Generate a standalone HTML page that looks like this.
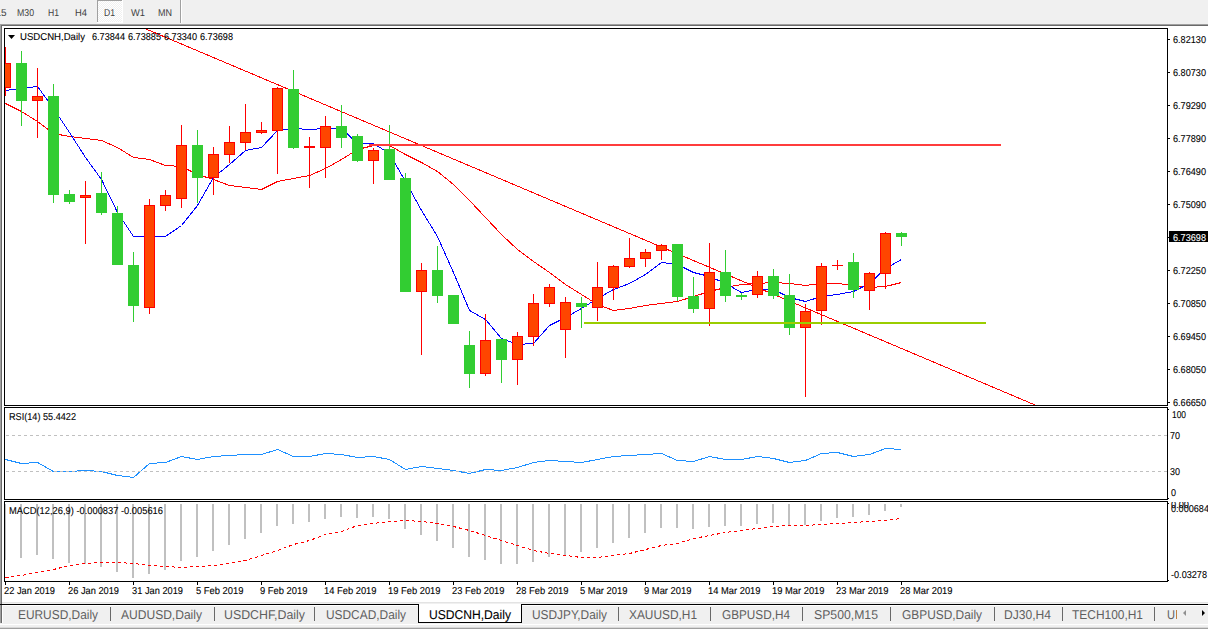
<!DOCTYPE html><html><head><meta charset="utf-8"><title>USDCNH,Daily</title><style>html,body{margin:0;padding:0;background:#f0f0f0;overflow:hidden}svg{display:block}text{font-family:"Liberation Sans",sans-serif;text-rendering:geometricPrecision}</style></head><body>
<svg width="1208" height="629" viewBox="0 0 1208 629" shape-rendering="crispEdges">
<rect x="0" y="0" width="1208" height="629" fill="#f0f0f0"/>
<defs><pattern id="chk" x="0" y="0" width="2" height="2" patternUnits="userSpaceOnUse"><rect width="2" height="2" fill="#f0f0f0"/><rect width="1" height="1" fill="#ffffff"/><rect x="1" y="1" width="1" height="1" fill="#ffffff"/></pattern><clipPath id="cMain"><rect x="5" y="29" width="1162" height="376"/></clipPath><clipPath id="cRsi"><rect x="5" y="408" width="1162" height="91"/></clipPath><clipPath id="cMacd"><rect x="5" y="502" width="1162" height="79"/></clipPath><clipPath id="cAxisM"><rect x="1168" y="502" width="40" height="79"/></clipPath></defs>
<rect x="97" y="0" width="26" height="23" fill="#ffffff"/>
<rect x="98" y="1" width="24" height="21" fill="url(#chk)"/>
<rect x="97" y="0" width="25" height="1" fill="#a0a0a0"/>
<rect x="97" y="0" width="1" height="22" fill="#a0a0a0"/>
<text x="0" y="16" font-size="10" fill="#404040" text-anchor="end" dx="6.5">M15</text>
<text x="17" y="16" font-size="10" fill="#404040" textLength="17" lengthAdjust="spacingAndGlyphs" >M30</text>
<text x="48" y="16" font-size="10" fill="#404040" textLength="11" lengthAdjust="spacingAndGlyphs" >H1</text>
<text x="75" y="16" font-size="10" fill="#404040" textLength="12" lengthAdjust="spacingAndGlyphs" >H4</text>
<text x="104" y="16" font-size="10" fill="#404040" textLength="11" lengthAdjust="spacingAndGlyphs" >D1</text>
<text x="131" y="16" font-size="10" fill="#404040" textLength="14" lengthAdjust="spacingAndGlyphs" >W1</text>
<text x="158" y="16" font-size="10" fill="#404040" textLength="14" lengthAdjust="spacingAndGlyphs" >MN</text>
<rect x="180" y="0" width="1" height="23" fill="#a0a0a0"/>
<rect x="181" y="0" width="1" height="23" fill="#ffffff"/>
<rect x="0" y="24" width="1208" height="1" fill="#a0a0a0"/>
<rect x="0" y="25" width="1208" height="1" fill="#696969"/>
<rect x="2" y="26" width="1206" height="577" fill="#ffffff"/>
<rect x="0" y="24" width="1" height="599" fill="#a0a0a0"/>
<rect x="1" y="25" width="1" height="598" fill="#696969"/>
<rect x="2" y="602" width="1206" height="1" fill="#e3e3e3"/>
<rect x="4" y="28" width="1164" height="1" fill="#000"/>
<rect x="4" y="405" width="1164" height="1" fill="#000"/>
<rect x="4" y="28" width="1" height="378" fill="#000"/>
<rect x="1167" y="28" width="1" height="378" fill="#000"/>
<rect x="4" y="407" width="1164" height="1" fill="#000"/>
<rect x="4" y="499" width="1164" height="1" fill="#000"/>
<rect x="4" y="407" width="1" height="93" fill="#000"/>
<rect x="1167" y="407" width="1" height="93" fill="#000"/>
<rect x="4" y="501" width="1164" height="1" fill="#000"/>
<rect x="4" y="581" width="1164" height="1" fill="#000"/>
<rect x="4" y="501" width="1" height="81" fill="#000"/>
<rect x="1167" y="501" width="1" height="81" fill="#000"/>
<g clip-path="url(#cMain)">
<line x1="144.8" y1="28.5" x2="1036.3" y2="405.5" stroke="#ff0000" stroke-width="1"/>
<polyline points="5.5,103.5 21.5,111.5 37.5,121.5 53.5,133.5 69.5,136.5 85.5,138.5 101.5,140.5 117.5,147.5 133.5,157.5 149.5,159.5 165.5,165.5 181.5,166.5 197.5,174.5 213.5,179.5 229.5,185.5 245.5,187.5 261.5,189.5 277.5,181.5 293.5,178.5 309.5,175.5 325.5,168.5 341.5,159.5 357.5,149.5 373.5,145.5 389.5,145.5 405.5,154.5 421.5,162.5 437.5,171.5 453.5,184.5 469.5,200.5 485.5,217.5 501.5,234.5 517.5,249.5 533.5,261.5 549.5,272.5 565.5,284.5 581.5,294.5 597.5,304.5 613.5,310.5 629.5,308.5 645.5,305.5 661.5,303.5 677.5,301.5 693.5,296.5 709.5,291.5 725.5,287.5 741.5,284.5 757.5,283.5 773.5,282.5 789.5,283.5 805.5,285.5 821.5,283.5 837.5,283.5 853.5,285.5 869.5,287.5 885.5,286.5 901.5,282.5" fill="none" stroke="#ff0000" stroke-width="1" />
<polyline points="5.5,90.5 21.5,88.5 37.5,86.5 53.5,108.5 69.5,132.5 85.5,157.5 101.5,179.5 117.5,212.5 133.5,236.5 149.5,236.5 165.5,236.5 181.5,225.5 197.5,205.5 213.5,177.5 229.5,164.5 245.5,150.5 261.5,147.5 277.5,130.5 293.5,128.5 309.5,129.5 325.5,128.5 341.5,128.5 357.5,143.5 373.5,143.5 389.5,153.5 405.5,181.5 421.5,210.5 437.5,236.5 453.5,272.5 469.5,310.5 485.5,319.5 501.5,338.5 517.5,344.5 533.5,343.5 549.5,325.5 565.5,317.5 581.5,308.5 597.5,298.5 613.5,289.5 629.5,283.5 645.5,274.5 661.5,262.5 677.5,264.5 693.5,272.5 709.5,276.5 725.5,283.5 741.5,292.5 757.5,289.5 773.5,289.5 789.5,297.5 805.5,301.5 821.5,296.5 837.5,294.5 853.5,291.5 869.5,283.5 885.5,268.5 901.5,259.5" fill="none" stroke="#0000ff" stroke-width="1" />
<rect x="5" y="47" width="1" height="49" fill="#ff0000"/>
<rect x="0" y="63" width="11" height="25" fill="#ff0000"/>
<rect x="1" y="64" width="9" height="23" fill="#ff4500"/>
<rect x="21" y="51" width="1" height="75" fill="#32cd32"/>
<rect x="16" y="63" width="11" height="38" fill="#32cd32"/>
<rect x="37" y="68" width="1" height="70" fill="#ff0000"/>
<rect x="32" y="96" width="11" height="5" fill="#ff0000"/>
<rect x="33" y="97" width="9" height="3" fill="#ff4500"/>
<rect x="53" y="84" width="1" height="119" fill="#32cd32"/>
<rect x="48" y="96" width="11" height="99" fill="#32cd32"/>
<rect x="69" y="190" width="1" height="14" fill="#32cd32"/>
<rect x="64" y="194" width="11" height="8" fill="#32cd32"/>
<rect x="85" y="181" width="1" height="63" fill="#ff0000"/>
<rect x="80" y="195" width="11" height="3" fill="#ff0000"/>
<rect x="81" y="196" width="9" height="1" fill="#ff4500"/>
<rect x="101" y="172" width="1" height="43" fill="#32cd32"/>
<rect x="96" y="193" width="11" height="20" fill="#32cd32"/>
<rect x="117" y="206" width="1" height="59" fill="#32cd32"/>
<rect x="112" y="213" width="11" height="52" fill="#32cd32"/>
<rect x="133" y="252" width="1" height="70" fill="#32cd32"/>
<rect x="128" y="265" width="11" height="41" fill="#32cd32"/>
<rect x="149" y="199" width="1" height="115" fill="#ff0000"/>
<rect x="144" y="205" width="11" height="103" fill="#ff0000"/>
<rect x="145" y="206" width="9" height="101" fill="#ff4500"/>
<rect x="165" y="190" width="1" height="21" fill="#ff0000"/>
<rect x="160" y="195" width="11" height="11" fill="#ff0000"/>
<rect x="161" y="196" width="9" height="9" fill="#ff4500"/>
<rect x="181" y="125" width="1" height="83" fill="#ff0000"/>
<rect x="176" y="145" width="11" height="54" fill="#ff0000"/>
<rect x="177" y="146" width="9" height="52" fill="#ff4500"/>
<rect x="197" y="130" width="1" height="73" fill="#32cd32"/>
<rect x="192" y="145" width="11" height="33" fill="#32cd32"/>
<rect x="213" y="147" width="1" height="48" fill="#ff0000"/>
<rect x="208" y="154" width="11" height="24" fill="#ff0000"/>
<rect x="209" y="155" width="9" height="22" fill="#ff4500"/>
<rect x="229" y="126" width="1" height="37" fill="#ff0000"/>
<rect x="224" y="142" width="11" height="13" fill="#ff0000"/>
<rect x="225" y="143" width="9" height="11" fill="#ff4500"/>
<rect x="245" y="104" width="1" height="46" fill="#ff0000"/>
<rect x="240" y="132" width="11" height="11" fill="#ff0000"/>
<rect x="241" y="133" width="9" height="9" fill="#ff4500"/>
<rect x="261" y="122" width="1" height="12" fill="#ff0000"/>
<rect x="256" y="130" width="11" height="3" fill="#ff0000"/>
<rect x="257" y="131" width="9" height="1" fill="#ff4500"/>
<rect x="277" y="87" width="1" height="87" fill="#ff0000"/>
<rect x="272" y="88" width="11" height="43" fill="#ff0000"/>
<rect x="273" y="89" width="9" height="41" fill="#ff4500"/>
<rect x="293" y="70" width="1" height="79" fill="#32cd32"/>
<rect x="288" y="89" width="11" height="59" fill="#32cd32"/>
<rect x="309" y="137" width="1" height="51" fill="#ff0000"/>
<rect x="304" y="146" width="11" height="2" fill="#ff0000"/>
<rect x="325" y="116" width="1" height="62" fill="#ff0000"/>
<rect x="320" y="126" width="11" height="22" fill="#ff0000"/>
<rect x="321" y="127" width="9" height="20" fill="#ff4500"/>
<rect x="341" y="105" width="1" height="43" fill="#32cd32"/>
<rect x="336" y="126" width="11" height="12" fill="#32cd32"/>
<rect x="357" y="134" width="1" height="28" fill="#32cd32"/>
<rect x="352" y="136" width="11" height="25" fill="#32cd32"/>
<rect x="373" y="148" width="1" height="36" fill="#ff0000"/>
<rect x="368" y="150" width="11" height="11" fill="#ff0000"/>
<rect x="369" y="151" width="9" height="9" fill="#ff4500"/>
<rect x="389" y="125" width="1" height="55" fill="#32cd32"/>
<rect x="384" y="149" width="11" height="31" fill="#32cd32"/>
<rect x="405" y="173" width="1" height="119" fill="#32cd32"/>
<rect x="400" y="178" width="11" height="114" fill="#32cd32"/>
<rect x="421" y="263" width="1" height="92" fill="#ff0000"/>
<rect x="416" y="270" width="11" height="22" fill="#ff0000"/>
<rect x="417" y="271" width="9" height="20" fill="#ff4500"/>
<rect x="437" y="246" width="1" height="57" fill="#32cd32"/>
<rect x="432" y="270" width="11" height="26" fill="#32cd32"/>
<rect x="453" y="295" width="1" height="29" fill="#32cd32"/>
<rect x="448" y="295" width="11" height="29" fill="#32cd32"/>
<rect x="469" y="331" width="1" height="57" fill="#32cd32"/>
<rect x="464" y="345" width="11" height="29" fill="#32cd32"/>
<rect x="485" y="314" width="1" height="62" fill="#ff0000"/>
<rect x="480" y="340" width="11" height="34" fill="#ff0000"/>
<rect x="481" y="341" width="9" height="32" fill="#ff4500"/>
<rect x="501" y="339" width="1" height="44" fill="#32cd32"/>
<rect x="496" y="339" width="11" height="21" fill="#32cd32"/>
<rect x="517" y="332" width="1" height="53" fill="#ff0000"/>
<rect x="512" y="336" width="11" height="24" fill="#ff0000"/>
<rect x="513" y="337" width="9" height="22" fill="#ff4500"/>
<rect x="533" y="294" width="1" height="52" fill="#ff0000"/>
<rect x="528" y="303" width="11" height="34" fill="#ff0000"/>
<rect x="529" y="304" width="9" height="32" fill="#ff4500"/>
<rect x="549" y="284" width="1" height="23" fill="#ff0000"/>
<rect x="544" y="287" width="11" height="17" fill="#ff0000"/>
<rect x="545" y="288" width="9" height="15" fill="#ff4500"/>
<rect x="565" y="297" width="1" height="61" fill="#ff0000"/>
<rect x="560" y="302" width="11" height="28" fill="#ff0000"/>
<rect x="561" y="303" width="9" height="26" fill="#ff4500"/>
<rect x="581" y="297" width="1" height="31" fill="#32cd32"/>
<rect x="576" y="303" width="11" height="4" fill="#32cd32"/>
<rect x="597" y="262" width="1" height="59" fill="#ff0000"/>
<rect x="592" y="287" width="11" height="21" fill="#ff0000"/>
<rect x="593" y="288" width="9" height="19" fill="#ff4500"/>
<rect x="613" y="265" width="1" height="35" fill="#ff0000"/>
<rect x="608" y="266" width="11" height="22" fill="#ff0000"/>
<rect x="609" y="267" width="9" height="20" fill="#ff4500"/>
<rect x="629" y="238" width="1" height="30" fill="#ff0000"/>
<rect x="624" y="258" width="11" height="9" fill="#ff0000"/>
<rect x="625" y="259" width="9" height="7" fill="#ff4500"/>
<rect x="645" y="249" width="1" height="18" fill="#ff0000"/>
<rect x="640" y="252" width="11" height="7" fill="#ff0000"/>
<rect x="641" y="253" width="9" height="5" fill="#ff4500"/>
<rect x="661" y="244" width="1" height="16" fill="#ff0000"/>
<rect x="656" y="245" width="11" height="6" fill="#ff0000"/>
<rect x="657" y="246" width="9" height="4" fill="#ff4500"/>
<rect x="677" y="244" width="1" height="57" fill="#32cd32"/>
<rect x="672" y="244" width="11" height="53" fill="#32cd32"/>
<rect x="693" y="277" width="1" height="36" fill="#32cd32"/>
<rect x="688" y="296" width="11" height="13" fill="#32cd32"/>
<rect x="709" y="243" width="1" height="83" fill="#ff0000"/>
<rect x="704" y="272" width="11" height="37" fill="#ff0000"/>
<rect x="705" y="273" width="9" height="35" fill="#ff4500"/>
<rect x="725" y="250" width="1" height="52" fill="#32cd32"/>
<rect x="720" y="272" width="11" height="24" fill="#32cd32"/>
<rect x="741" y="293" width="1" height="7" fill="#32cd32"/>
<rect x="736" y="295" width="11" height="2" fill="#32cd32"/>
<rect x="757" y="271" width="1" height="27" fill="#ff0000"/>
<rect x="752" y="276" width="11" height="19" fill="#ff0000"/>
<rect x="753" y="277" width="9" height="17" fill="#ff4500"/>
<rect x="773" y="269" width="1" height="30" fill="#32cd32"/>
<rect x="768" y="276" width="11" height="20" fill="#32cd32"/>
<rect x="789" y="274" width="1" height="61" fill="#32cd32"/>
<rect x="784" y="295" width="11" height="33" fill="#32cd32"/>
<rect x="805" y="304" width="1" height="93" fill="#ff0000"/>
<rect x="800" y="311" width="11" height="17" fill="#ff0000"/>
<rect x="801" y="312" width="9" height="15" fill="#ff4500"/>
<rect x="821" y="263" width="1" height="62" fill="#ff0000"/>
<rect x="816" y="266" width="11" height="45" fill="#ff0000"/>
<rect x="817" y="267" width="9" height="43" fill="#ff4500"/>
<rect x="837" y="260" width="1" height="10" fill="#ff0000"/>
<rect x="832" y="265" width="11" height="1" fill="#ff0000"/>
<rect x="853" y="253" width="1" height="45" fill="#32cd32"/>
<rect x="848" y="262" width="11" height="28" fill="#32cd32"/>
<rect x="869" y="272" width="1" height="38" fill="#ff0000"/>
<rect x="864" y="273" width="11" height="18" fill="#ff0000"/>
<rect x="865" y="274" width="9" height="16" fill="#ff4500"/>
<rect x="885" y="232" width="1" height="57" fill="#ff0000"/>
<rect x="880" y="233" width="11" height="41" fill="#ff0000"/>
<rect x="881" y="234" width="9" height="39" fill="#ff4500"/>
<rect x="901" y="232" width="1" height="14" fill="#32cd32"/>
<rect x="896" y="233" width="11" height="4" fill="#32cd32"/>
<rect x="369" y="144" width="632" height="2" fill="#ff3c3c"/>
<rect x="584" y="322" width="402" height="2" fill="#9acd00"/>
</g>
<polygon points="8,35 15,35 11.5,39" fill="#000" shape-rendering="geometricPrecision"/>
<text x="20" y="40" font-size="10" fill="#000" textLength="65" lengthAdjust="spacingAndGlyphs" stroke="#000" stroke-width="0.1" >USDCNH,Daily</text>
<text x="92" y="40" font-size="10" fill="#000" textLength="33" lengthAdjust="spacingAndGlyphs" stroke="#000" stroke-width="0.1" >6.73844</text>
<text x="128" y="40" font-size="10" fill="#000" textLength="33" lengthAdjust="spacingAndGlyphs" stroke="#000" stroke-width="0.1" >6.73885</text>
<text x="164" y="40" font-size="10" fill="#000" textLength="33" lengthAdjust="spacingAndGlyphs" stroke="#000" stroke-width="0.1" >6.73340</text>
<text x="200" y="40" font-size="10" fill="#000" textLength="33" lengthAdjust="spacingAndGlyphs" stroke="#000" stroke-width="0.1" >6.73698</text>
<rect x="1168" y="39" width="2" height="1" fill="#000"/>
<text x="1173" y="43" font-size="10" fill="#000" textLength="33" lengthAdjust="spacingAndGlyphs" stroke="#000" stroke-width="0.1" >6.82130</text>
<rect x="1168" y="72" width="2" height="1" fill="#000"/>
<text x="1173" y="76" font-size="10" fill="#000" textLength="33" lengthAdjust="spacingAndGlyphs" stroke="#000" stroke-width="0.1" >6.80730</text>
<rect x="1168" y="105" width="2" height="1" fill="#000"/>
<text x="1173" y="109" font-size="10" fill="#000" textLength="33" lengthAdjust="spacingAndGlyphs" stroke="#000" stroke-width="0.1" >6.79290</text>
<rect x="1168" y="138" width="2" height="1" fill="#000"/>
<text x="1173" y="142" font-size="10" fill="#000" textLength="33" lengthAdjust="spacingAndGlyphs" stroke="#000" stroke-width="0.1" >6.77890</text>
<rect x="1168" y="171" width="2" height="1" fill="#000"/>
<text x="1173" y="175" font-size="10" fill="#000" textLength="33" lengthAdjust="spacingAndGlyphs" stroke="#000" stroke-width="0.1" >6.76490</text>
<rect x="1168" y="204" width="2" height="1" fill="#000"/>
<text x="1173" y="208" font-size="10" fill="#000" textLength="33" lengthAdjust="spacingAndGlyphs" stroke="#000" stroke-width="0.1" >6.75090</text>
<rect x="1168" y="270" width="2" height="1" fill="#000"/>
<text x="1173" y="274" font-size="10" fill="#000" textLength="33" lengthAdjust="spacingAndGlyphs" stroke="#000" stroke-width="0.1" >6.72250</text>
<rect x="1168" y="303" width="2" height="1" fill="#000"/>
<text x="1173" y="307" font-size="10" fill="#000" textLength="33" lengthAdjust="spacingAndGlyphs" stroke="#000" stroke-width="0.1" >6.70850</text>
<rect x="1168" y="336" width="2" height="1" fill="#000"/>
<text x="1173" y="340" font-size="10" fill="#000" textLength="33" lengthAdjust="spacingAndGlyphs" stroke="#000" stroke-width="0.1" >6.69450</text>
<rect x="1168" y="369" width="2" height="1" fill="#000"/>
<text x="1173" y="373" font-size="10" fill="#000" textLength="33" lengthAdjust="spacingAndGlyphs" stroke="#000" stroke-width="0.1" >6.68050</text>
<rect x="1168" y="402" width="2" height="1" fill="#000"/>
<text x="1173" y="406" font-size="10" fill="#000" textLength="33" lengthAdjust="spacingAndGlyphs" stroke="#000" stroke-width="0.1" >6.66650</text>
<rect x="1169" y="231" width="39" height="11" fill="#000"/>
<rect x="1168" y="237" width="2" height="1" fill="#000"/>
<text x="1173" y="241" font-size="10" fill="#fff" textLength="33" lengthAdjust="spacingAndGlyphs" stroke="#fff" stroke-width="0.1" >6.73698</text>
<g clip-path="url(#cRsi)">
<polyline points="5.5,459.5 21.5,463.5 37.5,462.5 53.5,471.5 69.5,471.5 85.5,470.5 101.5,471.5 117.5,475.5 133.5,477.5 149.5,463.5 165.5,462.5 181.5,456.5 197.5,459.5 213.5,456.5 229.5,455.5 245.5,454.5 261.5,454.5 277.5,449.5 293.5,456.5 309.5,456.5 325.5,453.5 341.5,454.5 357.5,457.5 373.5,456.5 389.5,459.5 405.5,469.5 421.5,466.5 437.5,468.5 453.5,470.5 469.5,473.5 485.5,469.5 501.5,470.5 517.5,467.5 533.5,462.5 549.5,460.5 565.5,461.5 581.5,462.5 597.5,459.5 613.5,456.5 629.5,455.5 645.5,454.5 661.5,453.5 677.5,460.5 693.5,461.5 709.5,456.5 725.5,459.5 741.5,459.5 757.5,456.5 773.5,458.5 789.5,462.5 805.5,460.5 821.5,453.5 837.5,452.5 853.5,456.5 869.5,454.5 885.5,448.5 901.5,449.5" fill="none" stroke="#1e90ff" stroke-width="1" />
</g>
<line x1="5" y1="435.5" x2="1167" y2="435.5" stroke="#c0c0c0" stroke-width="1" stroke-dasharray="3,3" stroke-dashoffset="-1"/>
<line x1="5" y1="471.5" x2="1167" y2="471.5" stroke="#c0c0c0" stroke-width="1" stroke-dasharray="3,3" stroke-dashoffset="-1"/>
<text x="9" y="420" font-size="10" fill="#000" textLength="67" lengthAdjust="spacingAndGlyphs" stroke="#000" stroke-width="0.1" >RSI(14) 55.4422</text>
<rect x="1168" y="409" width="1" height="1" fill="#000"/>
<text x="1172" y="418" font-size="10" fill="#000" textLength="14" lengthAdjust="spacingAndGlyphs" stroke="#000" stroke-width="0.1" >100</text>
<text x="1170" y="439" font-size="10" fill="#000" textLength="10" lengthAdjust="spacingAndGlyphs" stroke="#000" stroke-width="0.1" >70</text>
<text x="1170" y="475" font-size="10" fill="#000" textLength="10" lengthAdjust="spacingAndGlyphs" stroke="#000" stroke-width="0.1" >30</text>
<text x="1171" y="496" font-size="10" fill="#000" textLength="5" lengthAdjust="spacingAndGlyphs" stroke="#000" stroke-width="0.1" >0</text>
<rect x="1168" y="498" width="1" height="1" fill="#000"/>
<g clip-path="url(#cMacd)">
<rect x="4" y="504" width="2" height="56" fill="#c0c0c0"/>
<rect x="20" y="504" width="2" height="54" fill="#c0c0c0"/>
<rect x="36" y="504" width="2" height="51" fill="#c0c0c0"/>
<rect x="52" y="504" width="2" height="55" fill="#c0c0c0"/>
<rect x="68" y="504" width="2" height="59" fill="#c0c0c0"/>
<rect x="84" y="504" width="2" height="60" fill="#c0c0c0"/>
<rect x="100" y="504" width="2" height="63" fill="#c0c0c0"/>
<rect x="116" y="504" width="2" height="68" fill="#c0c0c0"/>
<rect x="132" y="504" width="2" height="74" fill="#c0c0c0"/>
<rect x="148" y="504" width="2" height="70" fill="#c0c0c0"/>
<rect x="164" y="504" width="2" height="66" fill="#c0c0c0"/>
<rect x="180" y="504" width="2" height="57" fill="#c0c0c0"/>
<rect x="196" y="504" width="2" height="53" fill="#c0c0c0"/>
<rect x="212" y="504" width="2" height="47" fill="#c0c0c0"/>
<rect x="228" y="504" width="2" height="41" fill="#c0c0c0"/>
<rect x="244" y="504" width="2" height="35" fill="#c0c0c0"/>
<rect x="260" y="504" width="2" height="29" fill="#c0c0c0"/>
<rect x="276" y="504" width="2" height="22" fill="#c0c0c0"/>
<rect x="292" y="504" width="2" height="20" fill="#c0c0c0"/>
<rect x="308" y="504" width="2" height="18" fill="#c0c0c0"/>
<rect x="324" y="504" width="2" height="15" fill="#c0c0c0"/>
<rect x="340" y="504" width="2" height="13" fill="#c0c0c0"/>
<rect x="356" y="504" width="2" height="14" fill="#c0c0c0"/>
<rect x="372" y="504" width="2" height="13" fill="#c0c0c0"/>
<rect x="388" y="504" width="2" height="15" fill="#c0c0c0"/>
<rect x="404" y="504" width="2" height="25" fill="#c0c0c0"/>
<rect x="420" y="504" width="2" height="31" fill="#c0c0c0"/>
<rect x="436" y="504" width="2" height="37" fill="#c0c0c0"/>
<rect x="452" y="504" width="2" height="44" fill="#c0c0c0"/>
<rect x="468" y="504" width="2" height="53" fill="#c0c0c0"/>
<rect x="484" y="504" width="2" height="56" fill="#c0c0c0"/>
<rect x="500" y="504" width="2" height="60" fill="#c0c0c0"/>
<rect x="516" y="504" width="2" height="60" fill="#c0c0c0"/>
<rect x="532" y="504" width="2" height="58" fill="#c0c0c0"/>
<rect x="548" y="504" width="2" height="53" fill="#c0c0c0"/>
<rect x="564" y="504" width="2" height="51" fill="#c0c0c0"/>
<rect x="580" y="504" width="2" height="48" fill="#c0c0c0"/>
<rect x="596" y="504" width="2" height="44" fill="#c0c0c0"/>
<rect x="612" y="504" width="2" height="39" fill="#c0c0c0"/>
<rect x="628" y="504" width="2" height="34" fill="#c0c0c0"/>
<rect x="644" y="504" width="2" height="29" fill="#c0c0c0"/>
<rect x="660" y="504" width="2" height="24" fill="#c0c0c0"/>
<rect x="676" y="504" width="2" height="24" fill="#c0c0c0"/>
<rect x="692" y="504" width="2" height="25" fill="#c0c0c0"/>
<rect x="708" y="504" width="2" height="23" fill="#c0c0c0"/>
<rect x="724" y="504" width="2" height="22" fill="#c0c0c0"/>
<rect x="740" y="504" width="2" height="22" fill="#c0c0c0"/>
<rect x="756" y="504" width="2" height="20" fill="#c0c0c0"/>
<rect x="772" y="504" width="2" height="19" fill="#c0c0c0"/>
<rect x="788" y="504" width="2" height="21" fill="#c0c0c0"/>
<rect x="804" y="504" width="2" height="21" fill="#c0c0c0"/>
<rect x="820" y="504" width="2" height="17" fill="#c0c0c0"/>
<rect x="836" y="504" width="2" height="14" fill="#c0c0c0"/>
<rect x="852" y="504" width="2" height="13" fill="#c0c0c0"/>
<rect x="868" y="504" width="2" height="11" fill="#c0c0c0"/>
<rect x="884" y="504" width="2" height="7" fill="#c0c0c0"/>
<rect x="900" y="504" width="2" height="3" fill="#c0c0c0"/>
<g shape-rendering="crispEdges">
<polyline points="5.5,577.5 21.5,575.5 37.5,572.5 53.5,569.5 69.5,565.5 85.5,563.5 101.5,562.5 117.5,562.5 133.5,563.5 149.5,565.5 165.5,566.5 181.5,567.5 197.5,566.5 213.5,565.5 229.5,563.5 245.5,560.5 261.5,555.5 277.5,550.5 293.5,544.5 309.5,540.5 325.5,534.5 341.5,531.5 357.5,525.5 373.5,523.5 389.5,521.5 405.5,520.5 421.5,521.5 437.5,523.5 453.5,526.5 469.5,530.5 485.5,535.5 501.5,540.5 517.5,545.5 533.5,550.5 549.5,553.5 565.5,555.5 581.5,557.5 597.5,557.5 613.5,555.5 629.5,553.5 645.5,549.5 661.5,545.5 677.5,543.5 693.5,538.5 709.5,535.5 725.5,532.5 741.5,530.5 757.5,528.5 773.5,526.5 789.5,525.5 805.5,525.5 821.5,524.5 837.5,523.5 853.5,522.5 869.5,521.5 885.5,520.5 901.5,518.5" fill="none" stroke="#ff0000" stroke-width="1" stroke-dasharray="3,3"/>
</g>
</g>
<text x="9" y="514" font-size="10" fill="#000" textLength="154" lengthAdjust="spacingAndGlyphs" stroke="#000" stroke-width="0.1" >MACD(12,26,9) -0.000837 -0.005616</text>
<rect x="1168" y="503" width="1" height="1" fill="#000"/>
<g clip-path="url(#cAxisM)">
<text x="1171" y="508" font-size="10" fill="#000" textLength="18" lengthAdjust="spacingAndGlyphs" stroke="#000" stroke-width="0.1" >0.00</text>
</g>
<text x="1171" y="512" font-size="10" fill="#000" textLength="38" lengthAdjust="spacingAndGlyphs" stroke="#000" stroke-width="0.1" >0.000684</text>
<rect x="1168" y="580" width="1" height="1" fill="#000"/>
<text x="1171" y="578" font-size="10" fill="#000" textLength="36" lengthAdjust="spacingAndGlyphs" stroke="#000" stroke-width="0.1" >-0.03278</text>
<rect x="5" y="582" width="1" height="3" fill="#000"/>
<text x="4" y="594" font-size="10" fill="#000" textLength="51" lengthAdjust="spacingAndGlyphs" stroke="#000" stroke-width="0.1" >22 Jan 2019</text>
<rect x="69" y="582" width="1" height="3" fill="#000"/>
<text x="68" y="594" font-size="10" fill="#000" textLength="51" lengthAdjust="spacingAndGlyphs" stroke="#000" stroke-width="0.1" >26 Jan 2019</text>
<rect x="133" y="582" width="1" height="3" fill="#000"/>
<text x="132" y="594" font-size="10" fill="#000" textLength="51" lengthAdjust="spacingAndGlyphs" stroke="#000" stroke-width="0.1" >31 Jan 2019</text>
<rect x="197" y="582" width="1" height="3" fill="#000"/>
<text x="196" y="594" font-size="10" fill="#000" textLength="47.5" lengthAdjust="spacingAndGlyphs" stroke="#000" stroke-width="0.1" >5 Feb 2019</text>
<rect x="261" y="582" width="1" height="3" fill="#000"/>
<text x="260" y="594" font-size="10" fill="#000" textLength="47.5" lengthAdjust="spacingAndGlyphs" stroke="#000" stroke-width="0.1" >9 Feb 2019</text>
<rect x="325" y="582" width="1" height="3" fill="#000"/>
<text x="324" y="594" font-size="10" fill="#000" textLength="52.5" lengthAdjust="spacingAndGlyphs" stroke="#000" stroke-width="0.1" >14 Feb 2019</text>
<rect x="389" y="582" width="1" height="3" fill="#000"/>
<text x="388" y="594" font-size="10" fill="#000" textLength="52.5" lengthAdjust="spacingAndGlyphs" stroke="#000" stroke-width="0.1" >19 Feb 2019</text>
<rect x="453" y="582" width="1" height="3" fill="#000"/>
<text x="452" y="594" font-size="10" fill="#000" textLength="52.5" lengthAdjust="spacingAndGlyphs" stroke="#000" stroke-width="0.1" >23 Feb 2019</text>
<rect x="517" y="582" width="1" height="3" fill="#000"/>
<text x="516" y="594" font-size="10" fill="#000" textLength="52.5" lengthAdjust="spacingAndGlyphs" stroke="#000" stroke-width="0.1" >28 Feb 2019</text>
<rect x="581" y="582" width="1" height="3" fill="#000"/>
<text x="580" y="594" font-size="10" fill="#000" textLength="47.5" lengthAdjust="spacingAndGlyphs" stroke="#000" stroke-width="0.1" >5 Mar 2019</text>
<rect x="645" y="582" width="1" height="3" fill="#000"/>
<text x="644" y="594" font-size="10" fill="#000" textLength="47.5" lengthAdjust="spacingAndGlyphs" stroke="#000" stroke-width="0.1" >9 Mar 2019</text>
<rect x="709" y="582" width="1" height="3" fill="#000"/>
<text x="708" y="594" font-size="10" fill="#000" textLength="52.5" lengthAdjust="spacingAndGlyphs" stroke="#000" stroke-width="0.1" >14 Mar 2019</text>
<rect x="773" y="582" width="1" height="3" fill="#000"/>
<text x="772" y="594" font-size="10" fill="#000" textLength="52.5" lengthAdjust="spacingAndGlyphs" stroke="#000" stroke-width="0.1" >19 Mar 2019</text>
<rect x="837" y="582" width="1" height="3" fill="#000"/>
<text x="836" y="594" font-size="10" fill="#000" textLength="52.5" lengthAdjust="spacingAndGlyphs" stroke="#000" stroke-width="0.1" >23 Mar 2019</text>
<rect x="901" y="582" width="1" height="3" fill="#000"/>
<text x="900" y="594" font-size="10" fill="#000" textLength="52.5" lengthAdjust="spacingAndGlyphs" stroke="#000" stroke-width="0.1" >28 Mar 2019</text>
<rect x="0" y="604" width="1208" height="1" fill="#000"/>
<rect x="2" y="605" width="1206" height="1" fill="#ffffff"/>
<rect x="2" y="605" width="1" height="18" fill="#ffffff"/>
<rect x="0" y="624" width="1208" height="1" fill="#ffffff"/>
<rect x="0" y="627" width="1208" height="1" fill="#d8d8d8"/>
<rect x="0" y="628" width="1208" height="1" fill="#a0a0a0"/>
<rect x="418" y="604" width="104" height="19" fill="#ffffff"/>
<rect x="418" y="604" width="1" height="19" fill="#000"/>
<rect x="521" y="604" width="1" height="19" fill="#000"/>
<rect x="418" y="622" width="104" height="1" fill="#000"/>
<text x="18" y="619" font-size="12.8" fill="#5f5f5f" textLength="80" lengthAdjust="spacingAndGlyphs" >EURUSD,Daily</text>
<text x="121" y="619" font-size="12.8" fill="#5f5f5f" textLength="81" lengthAdjust="spacingAndGlyphs" >AUDUSD,Daily</text>
<text x="224" y="619" font-size="12.8" fill="#5f5f5f" textLength="81" lengthAdjust="spacingAndGlyphs" >USDCHF,Daily</text>
<text x="326" y="619" font-size="12.8" fill="#5f5f5f" textLength="80" lengthAdjust="spacingAndGlyphs" >USDCAD,Daily</text>
<text x="429" y="619" font-size="12.8" fill="#000" textLength="82" lengthAdjust="spacingAndGlyphs" stroke="#000" stroke-width="0.1" >USDCNH,Daily</text>
<text x="532" y="619" font-size="12.8" fill="#5f5f5f" textLength="75" lengthAdjust="spacingAndGlyphs" >USDJPY,Daily</text>
<text x="629" y="619" font-size="12.8" fill="#5f5f5f" textLength="68" lengthAdjust="spacingAndGlyphs" >XAUUSD,H1</text>
<text x="722" y="619" font-size="12.8" fill="#5f5f5f" textLength="68" lengthAdjust="spacingAndGlyphs" >GBPUSD,H4</text>
<text x="814" y="619" font-size="12.8" fill="#5f5f5f" textLength="64" lengthAdjust="spacingAndGlyphs" >SP500,M15</text>
<text x="902" y="619" font-size="12.8" fill="#5f5f5f" textLength="80" lengthAdjust="spacingAndGlyphs" >GBPUSD,Daily</text>
<text x="1004" y="619" font-size="12.8" fill="#5f5f5f" textLength="47" lengthAdjust="spacingAndGlyphs" >DJ30,H4</text>
<text x="1072" y="619" font-size="12.8" fill="#5f5f5f" textLength="71" lengthAdjust="spacingAndGlyphs" >TECH100,H1</text>
<rect x="110" y="607" width="1" height="14" fill="#696969"/>
<rect x="214" y="607" width="1" height="14" fill="#696969"/>
<rect x="314" y="607" width="1" height="14" fill="#696969"/>
<rect x="618" y="607" width="1" height="14" fill="#696969"/>
<rect x="710" y="607" width="1" height="14" fill="#696969"/>
<rect x="802" y="607" width="1" height="14" fill="#696969"/>
<rect x="890" y="607" width="1" height="14" fill="#696969"/>
<rect x="994" y="607" width="1" height="14" fill="#696969"/>
<rect x="1062" y="607" width="1" height="14" fill="#696969"/>
<rect x="1154" y="607" width="1" height="14" fill="#696969"/>
<text x="1167" y="619" font-size="12.8" fill="#5f5f5f" textLength="8" lengthAdjust="spacingAndGlyphs" >U</text>
<rect x="1176" y="610" width="1" height="9" fill="#c08040"/>
<rect x="1177" y="606" width="31" height="17" fill="#f0f0f0"/>
<polygon points="1186,610 1186,616 1183,613" fill="#909090" shape-rendering="geometricPrecision"/>
<polygon points="1202,610 1202,616 1205,613" fill="#000" shape-rendering="geometricPrecision"/>
</svg></body></html>
